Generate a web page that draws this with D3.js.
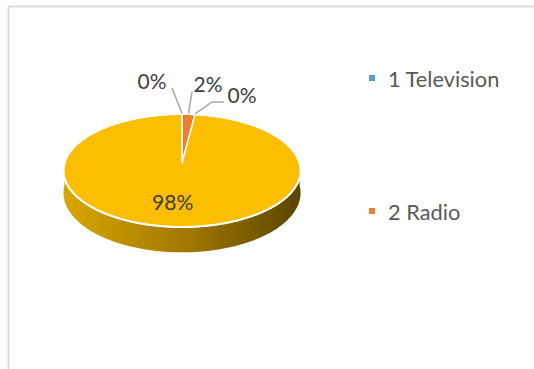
<!DOCTYPE html>
<html>
<head>
<meta charset="utf-8">
<script src="https://cdn.jsdelivr.net/npm/d3@7"></script>
<style>
  html, body { margin: 0; padding: 0; background: #ffffff; }
  svg { display: block; }
  text { font-family: Lato, "Open Sans", sans-serif; }
</style>
</head>
<body>
<svg id="chart" width="534" height="369"></svg>
<script>
// Share of respondents by main information source
const categories = ["1 Television", "2 Radio", "3", "4"];
const shares = [0, 2, 0, 98];
const sliceColors = ["#5B9BD5", "#ED7D31", "#A5A5A5", "#FBBE00"];
const legendShown = 2;

const svg = d3.select("#chart");
const W = 534, H = 369;

// chart area border (runs off the right and bottom edges)
svg.append("rect")
  .attr("x", 8.5).attr("y", 6.5)
  .attr("width", W + 20).attr("height", H + 20)
  .attr("fill", "#ffffff")
  .attr("stroke", "#D9D9D9")
  .attr("stroke-width", 1.75);

// Tilted disc seen in perspective: angle 0 at the far (top) edge, clockwise.
const disc = { x0: 182, y0: 163, a: 117.5, b: 55.5, k: 0.1327, depth: 22 };
function proj(theta, r = 1, h = 0) {
  const u = Math.sin(theta) * r;
  const v = -Math.cos(theta) * r;
  const w = 1 - disc.k * v;
  return [disc.x0 + disc.a * u / w, disc.y0 + (disc.b * v + h) / w];
}
function arcPoints(a0, a1, h = 0) {
  const n = Math.max(2, Math.ceil((a1 - a0) / 0.01));
  return d3.range(n + 1).map(i => proj(a0 + (a1 - a0) * i / n, 1, h));
}

const pie = d3.pie().sort(null).value(d => d);
const arcs = pie(shares);
const total = d3.sum(shares);
const pct = d3.format(".0%");
const line = d3.line();

// side gradient: light on the left, dark on the right
const defs = svg.append("defs");
const left = proj(-Math.PI / 2)[0], right = proj(Math.PI / 2)[0];
const grad = defs.append("linearGradient")
  .attr("id", "sideShade")
  .attr("gradientUnits", "userSpaceOnUse")
  .attr("x1", left).attr("x2", right).attr("y1", 0).attr("y2", 0);
grad.append("stop").attr("offset", 0).attr("stop-color", "#D8A600");
grad.append("stop").attr("offset", 0.5).attr("stop-color", "#A47A00");
grad.append("stop").attr("offset", 1).attr("stop-color", "#5C4500");

const g = svg.append("g");

// visible front wall of each slice (angles between PI/2 and 3PI/2)
arcs.forEach((d, i) => {
  const a0 = Math.max(d.startAngle, Math.PI / 2);
  const a1 = Math.min(d.endAngle, 3 * Math.PI / 2);
  if (a1 <= a0) return;
  const pts = arcPoints(a0, a1, 0).concat(arcPoints(a0, a1, disc.depth).reverse());
  g.append("path")
    .attr("d", line(pts) + "Z")
    .attr("fill", i === 3 ? "url(#sideShade)" : sliceColors[i])
    .attr("stroke", "none");
});

// top face slices
arcs.forEach((d, i) => {
  if (d.endAngle - d.startAngle <= 0) return;
  const pts = [[disc.x0, disc.y0]].concat(arcPoints(d.startAngle, d.endAngle));
  g.append("path")
    .attr("d", line(pts) + "Z")
    .attr("fill", sliceColors[i])
    .attr("stroke", "#ffffff")
    .attr("stroke-width", 1.5)
    .attr("stroke-linejoin", "round");
});
// white rim around the top face
g.append("path")
  .attr("d", line(arcPoints(0, 2 * Math.PI)) + "Z")
  .attr("fill", "none")
  .attr("stroke", "#ffffff")
  .attr("stroke-width", 2);

// data labels: small slices labelled outside with leader lines
const outsideLayout = [
  { x: 152, y: 89, lead: [[172, 88]] },
  { x: 208, y: 92, lead: [[192, 92]] },
  { x: 242, y: 103, lead: [[224, 102], [212, 102]] }
];
arcs.forEach((d, i) => {
  const label = pct(d.data / total);
  const mid = (d.startAngle + d.endAngle) / 2;
  if (i < outsideLayout.length) {
    const L = outsideLayout[i];
    const end = proj(mid, 1);
    svg.append("path")
      .attr("d", line(L.lead.concat([[end[0], end[1] - 0.5]])))
      .attr("fill", "none")
      .attr("stroke", "#A6A6A6")
      .attr("stroke-width", 1.5);
    svg.append("text")
      .attr("x", L.x).attr("y", L.y)
      .attr("text-anchor", "middle")
      .attr("font-size", 21)
      .attr("fill", "#404040")
      .text(label);
  } else {
    const p = proj(mid, 0.66);
    svg.append("text")
      .attr("x", p[0] - 4).attr("y", p[1] + 7)
      .attr("text-anchor", "middle")
      .attr("font-size", 21)
      .attr("fill", "#404040")
      .text(label);
  }
});

// legend
const legendY = d3.scaleLinear().domain([0, 1]).range([80, 213]);
categories.slice(0, legendShown).forEach((c, i) => {
  const y = legendY(i);
  svg.append("rect")
    .attr("x", 369).attr("y", y - 5)
    .attr("width", 6).attr("height", 6)
    .attr("fill", sliceColors[i]);
  svg.append("text")
    .attr("x", 388).attr("y", y + 7)
    .attr("font-size", 21.8)
    .attr("fill", "#595959")
    .text(c);
});
</script>
</body>
</html>
